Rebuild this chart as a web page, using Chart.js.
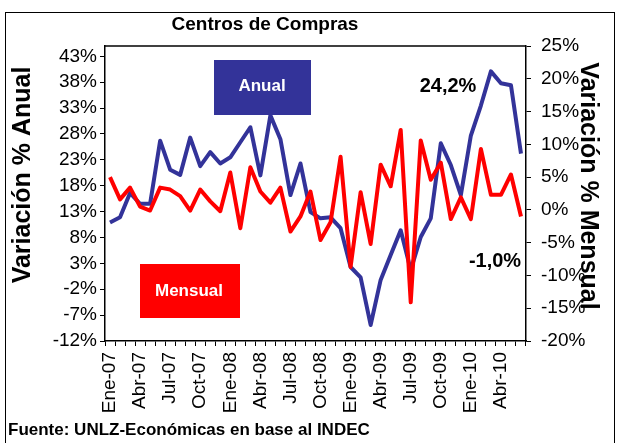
<!DOCTYPE html>
<html>
<head>
<meta charset="utf-8">
<script src="https://cdn.jsdelivr.net/npm/chart.js@4/dist/chart.umd.min.js"></script>
<style>
  html, body { margin: 0; padding: 0; background: #fff; }
  #wrap { width: 620px; height: 443px; position: relative; }
</style>
</head>
<body>
<div id="wrap"><canvas id="chart" width="620" height="443"></canvas></div>
<script>
// ── DATA ──
const meses = [
  'Ene-07','Feb-07','Mar-07','Abr-07','May-07','Jun-07','Jul-07','Ago-07','Sep-07','Oct-07','Nov-07','Dic-07',
  'Ene-08','Feb-08','Mar-08','Abr-08','May-08','Jun-08','Jul-08','Ago-08','Sep-08','Oct-08','Nov-08','Dic-08',
  'Ene-09','Feb-09','Mar-09','Abr-09','May-09','Jun-09','Jul-09','Ago-09','Sep-09','Oct-09','Nov-09','Dic-09',
  'Ene-10','Feb-10','Mar-10','Abr-10','May-10','Jun-10'
]
const anual = [
  10.9, 11.9, 16.6, 14.5, 14.5, 26.7, 21.1, 20.1, 27.3, 21.8, 24.5, 22.3,
  23.5, 26.4, 29.3, 20.0, 31.6, 27.0, 16.2, 22.3, 12.9, 11.7, 11.9, 9.8,
  2.3, 0.3, -8.9, -0.2, 4.6, 9.4, 1.7, 8.1, 11.7, 26.2, 22.0, 16.2,
  27.7, 33.5, 40.1, 37.8, 37.4, 24.2
]
const mensual = [
  5.0, 1.6, 3.4, 0.5, -0.1, 3.4, 3.1, 2.1, -0.1, 3.1, 1.3, -0.2,
  5.7, -2.8, 6.5, 2.8, 1.1, 3.4, -3.3, -1.0, 2.8, -4.6, -1.9, 8.1,
  -8.7, 2.7, -5.2, 6.9, 3.6, 12.2, -14.1, 10.6, 4.6, 7.2, -1.4, 1.9,
  -1.4, 9.3, 2.3, 2.3, 5.4, -1.0
]
const ticksAnual = [-12, -7, -2, 3, 8, 13, 18, 23, 28, 33, 38, 43]
const ticksMensual = [-20, -15, -10, -5, 0, 5, 10, 15, 20, 25]

const AZUL = '#333399'
const ROJO = '#ff0000'
const FONT = "'Liberation Sans', Arial, sans-serif"

// ── TEXTOS / RECUADROS ──
const decoPlugin = {
  id: 'deco',
  beforeDraw(chart) {
    const { ctx, chartArea } = chart
    ctx.save()
    ctx.fillStyle = '#fff'
    ctx.fillRect(0, 0, chart.width, chart.height)
    ctx.strokeStyle = '#000'
    ctx.lineWidth = 1
    ctx.strokeRect(5.5, 12.5, 609, 445)
    // borde superior del área de gráfico
    ctx.lineWidth = 1.5
    ctx.beginPath()
    ctx.moveTo(chartArea.left, chartArea.top)
    ctx.lineTo(chartArea.right, chartArea.top)
    ctx.stroke()
    ctx.restore()
  },
  afterDraw(chart) {
    const { ctx } = chart
    const n = anual.length - 1
    ctx.save()
    ctx.textBaseline = 'middle'
    ctx.textAlign = 'center'
    ctx.fillStyle = '#000'

    ctx.font = `bold 19px ${FONT}`
    ctx.fillText('Centros de Compras', 265, 25)

    // títulos de ejes
    ctx.font = `bold 25px ${FONT}`
    ctx.save()
    ctx.translate(23, 175)
    ctx.rotate(-Math.PI / 2)
    ctx.fillText('Variación % Anual', 0, 0)
    ctx.restore()
    ctx.save()
    ctx.translate(588, 186)
    ctx.rotate(Math.PI / 2)
    ctx.fillText('Variación % Mensual', 0, 0)
    ctx.restore()

    // recuadros de serie
    ctx.fillStyle = AZUL
    ctx.fillRect(214, 60, 97, 55)
    ctx.fillStyle = ROJO
    ctx.fillRect(140, 264, 100, 54)
    ctx.fillStyle = '#fff'
    ctx.font = `bold 17px ${FONT}`
    ctx.fillText('Anual', 262, 86)
    ctx.fillText('Mensual', 189, 291)

    // últimos valores
    ctx.fillStyle = '#000'
    ctx.font = `bold 20px ${FONT}`
    ctx.fillText(anual[n].toFixed(1).replace('.', ',') + '%', 448, 86)
    ctx.fillText(mensual[n].toFixed(1).replace('.', ',') + '%', 495, 261)

    // fuente
    ctx.textAlign = 'left'
    ctx.font = `bold 17px ${FONT}`
    ctx.fillText('Fuente: UNLZ-Económicas en base al INDEC', 8, 430)
    ctx.restore()
  }
}

// ── CHART ──
const tickFont = { family: FONT, size: 19 }

new Chart(document.getElementById('chart'), {
  type: 'line',
  data: {
    labels: meses,
    datasets: [
      {
        label: 'Mensual',
        data: mensual,
        yAxisID: 'yM',
        borderColor: ROJO,
        borderWidth: 4,
        borderJoinStyle: 'round',
        pointRadius: 0,
        tension: 0
      },
      {
        label: 'Anual',
        data: anual,
        yAxisID: 'yA',
        borderColor: AZUL,
        borderWidth: 4,
        borderJoinStyle: 'round',
        pointRadius: 0,
        tension: 0
      }
    ]
  },
  options: {
    responsive: false,
    animation: false,
    layout: { padding: { left: 0, right: 0, top: 46, bottom: 0 } },
    plugins: { legend: { display: false }, tooltip: { enabled: false }, title: { display: false } },
    scales: {
      x: {
        offset: true,
        afterFit: s => { s.height = 102 },
        grid: { display: true, offset: true, drawOnChartArea: false, tickLength: 5, color: '#000' },
        border: { color: '#000', width: 1.5 },
        ticks: {
          autoSkip: false,
          minRotation: 90,
          maxRotation: 90,
          padding: 6,
          color: '#000',
          font: tickFont,
          callback: (v, i) => i % 3 === 0 ? meses[i] : ''
        }
      },
      yA: {
        position: 'left',
        min: -12,
        max: 45,
        afterFit: s => { s.width = 105 },
        afterBuildTicks: s => { s.ticks = ticksAnual.map(v => ({ value: v })) },
        grid: { drawOnChartArea: false, tickLength: 5, color: '#000' },
        border: { color: '#000', width: 1.5 },
        ticks: { color: '#000', font: tickFont, padding: 3, callback: v => v + '%' }
      },
      yM: {
        position: 'right',
        min: -20,
        max: 25,
        afterFit: s => { s.width = 94 },
        afterBuildTicks: s => { s.ticks = ticksMensual.map(v => ({ value: v })) },
        grid: { drawOnChartArea: false, tickLength: 5, color: '#000' },
        border: { color: '#000', width: 1.5 },
        ticks: { color: '#000', font: tickFont, padding: 10, callback: v => v + '%' }
      }
    }
  },
  plugins: [decoPlugin]
})
</script>
</body>
</html>
